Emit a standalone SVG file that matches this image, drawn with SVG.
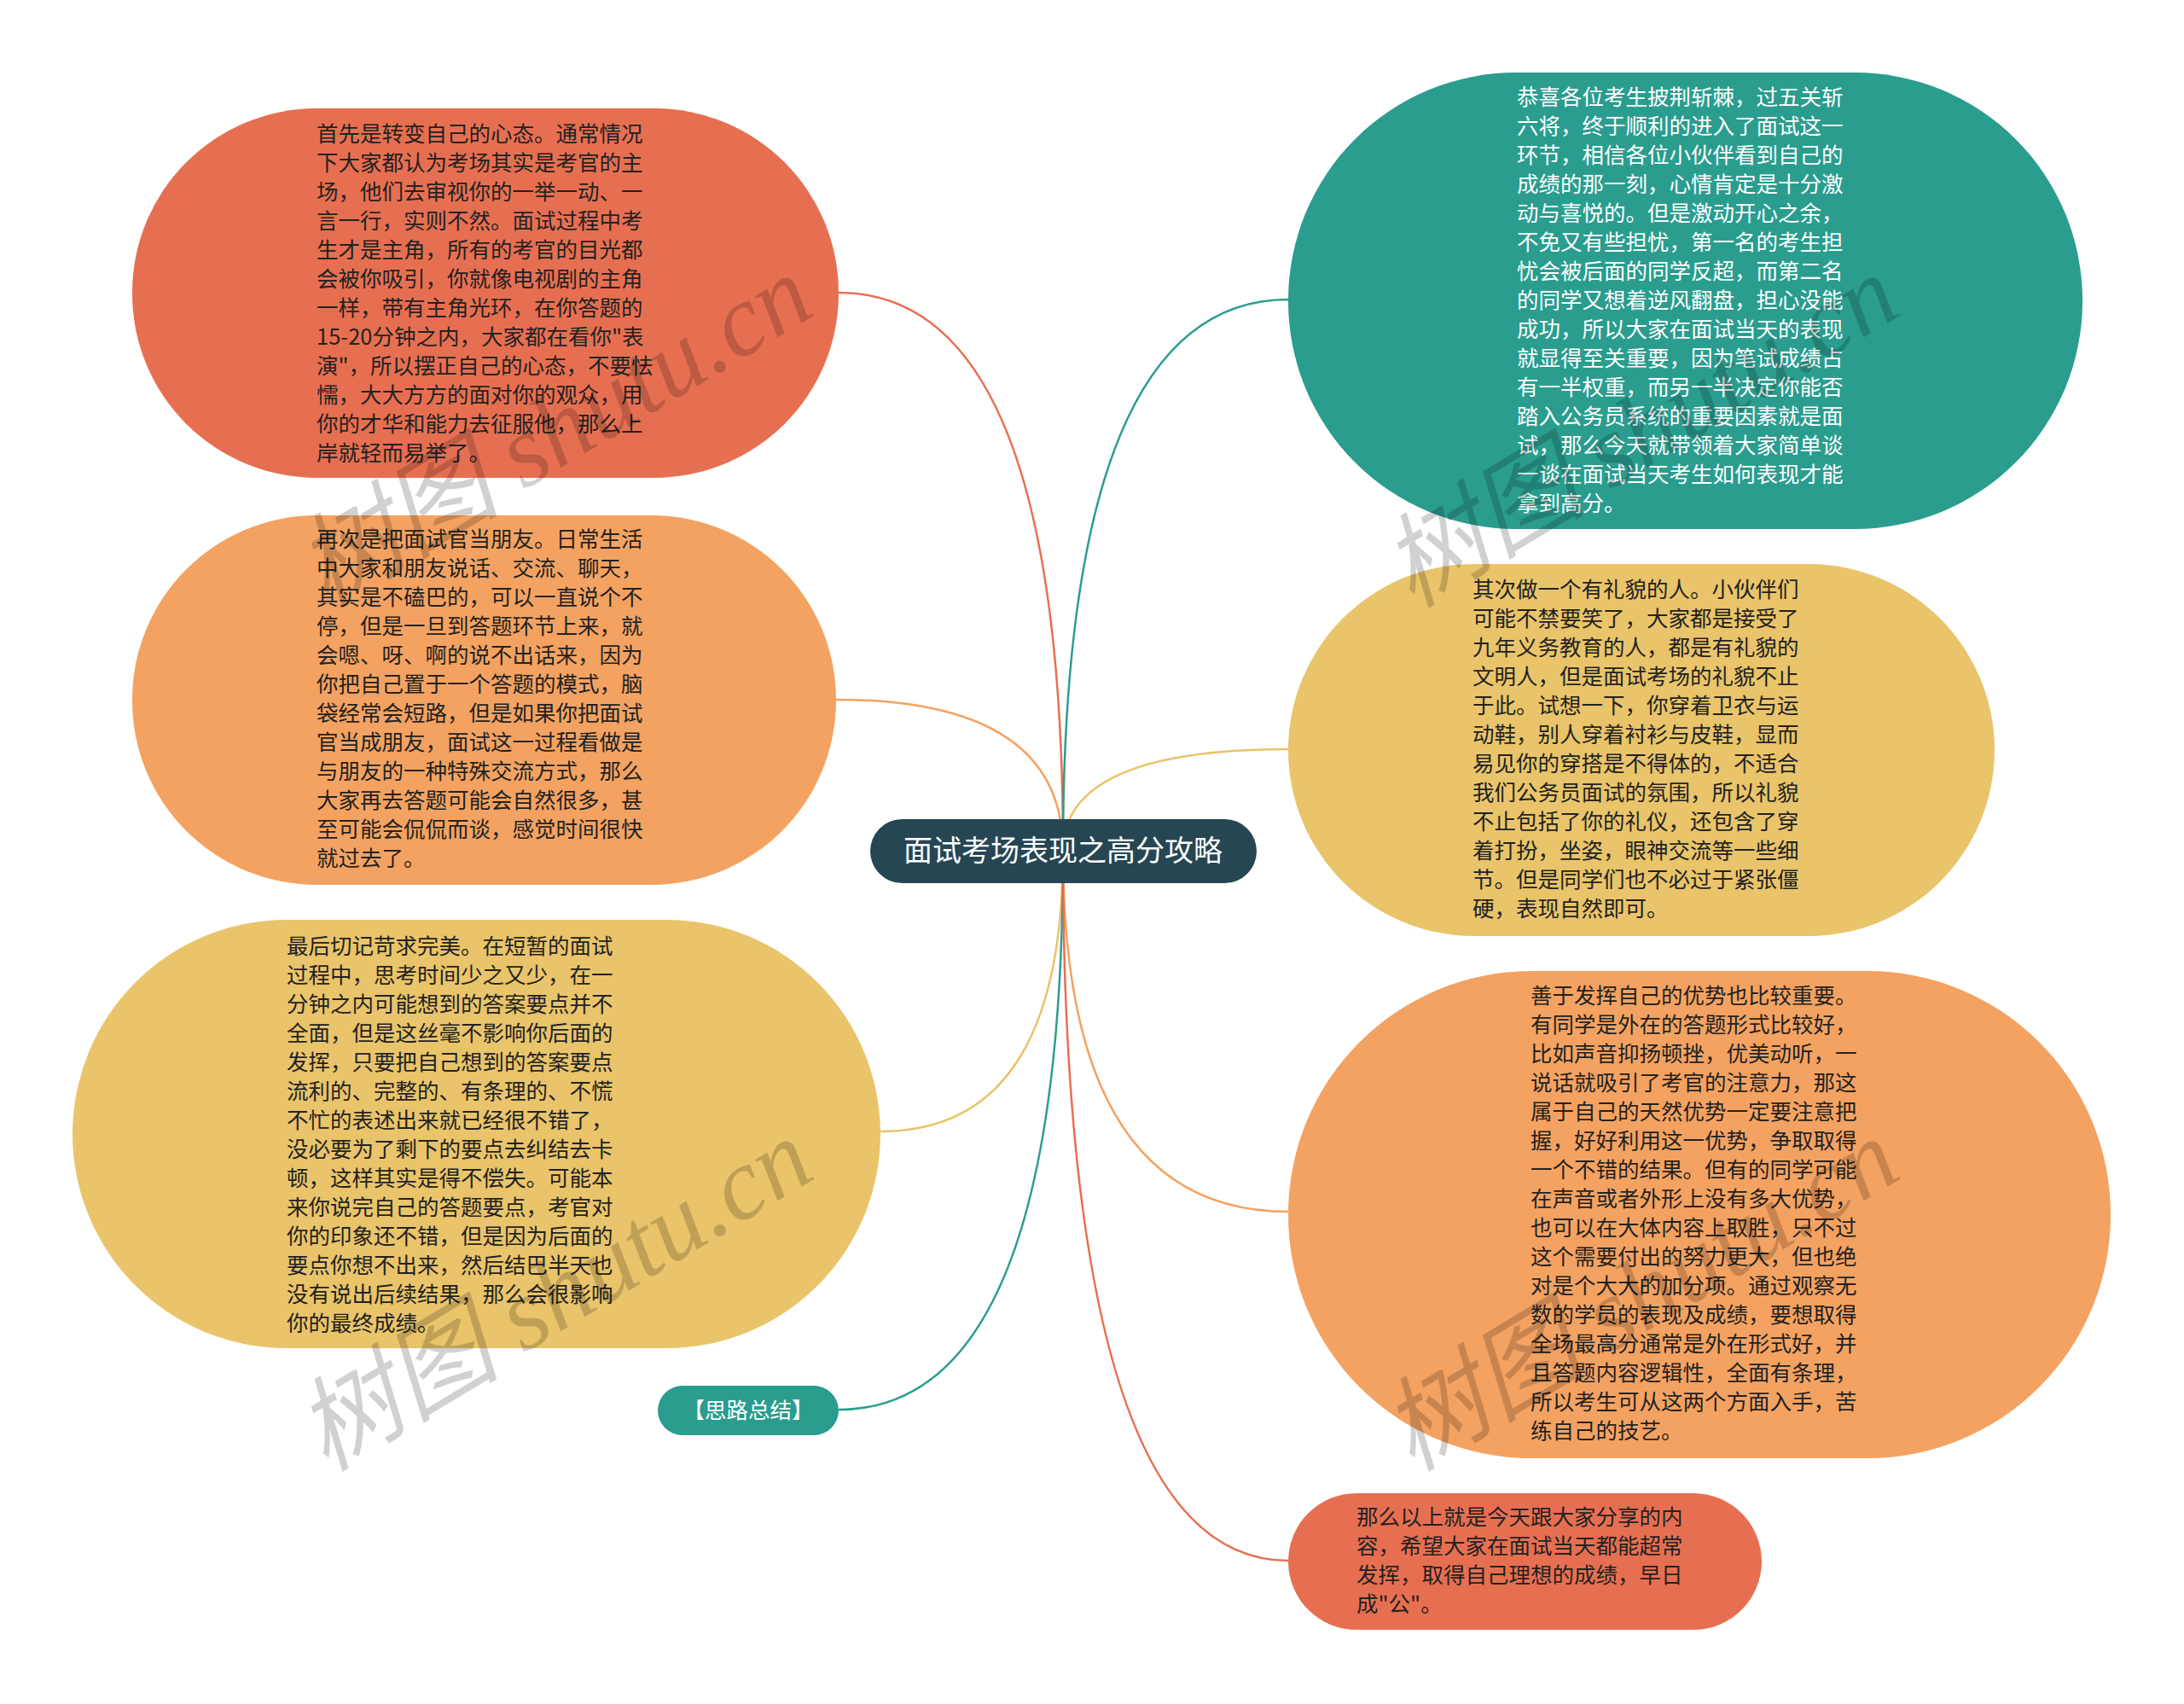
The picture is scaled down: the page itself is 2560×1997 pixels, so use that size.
<svg xmlns="http://www.w3.org/2000/svg" width="2560" height="1997" viewBox="0 0 2560 1997">
<style>
.t{font-family:"Noto Sans CJK SC","Noto Sans",sans-serif;font-size:25.5px;fill:#222}
.tw{font-family:"Noto Sans CJK SC","Noto Sans",sans-serif;font-size:25.5px;fill:#fff}
.c{fill:none;stroke-width:2.5}
.wm{font-family:"Liberation Serif","Noto Sans CJK SC",serif;font-size:120px;fill:#000;fill-opacity:0.18;font-style:italic}
</style>
<rect width="2560" height="1997" fill="#fff"/>
<g id="connectors">
<path class="c" stroke="#E76F51" d="M1246 997 Q1246 343 983 343"/>
<path class="c" stroke="#F4A261" d="M1246 997 Q1246 820 980 820"/>
<path class="c" stroke="#E9C46A" d="M1246 997 Q1246 1326 1032 1326"/>
<path class="c" stroke="#2A9D8F" d="M1246 997 Q1246 1652 983 1652"/>
<path class="c" stroke="#2A9D8F" d="M1246 997 Q1246 351 1510 351"/>
<path class="c" stroke="#E9C46A" d="M1246 997 Q1246 878 1510 878"/>
<path class="c" stroke="#F4A261" d="M1246 997 Q1246 1420 1510 1420"/>
<path class="c" stroke="#E76F51" d="M1246 997 Q1246 1829 1510 1829"/>
</g>
<g id="center">
<rect x="1020" y="960" width="453" height="75" rx="37.5" fill="#264653"/>
<text x="1246" y="1009" text-anchor="middle" font-family="Noto Sans CJK SC,sans-serif" font-size="34" fill="#fff">面试考场表现之高分攻略</text>
</g>
<g id="n1">
<rect x="155" y="127" width="828" height="433" rx="216" fill="#E76F51"/>
<text class="t" x="371" y="166"><tspan x="371">首先是转变自己的心态。通常情况</tspan><tspan x="371" dy="34">下大家都认为考场其实是考官的主</tspan><tspan x="371" dy="34">场，他们去审视你的一举一动、一</tspan><tspan x="371" dy="34">言一行，实则不然。面试过程中考</tspan><tspan x="371" dy="34">生才是主角，所有的考官的目光都</tspan><tspan x="371" dy="34">会被你吸引，你就像电视剧的主角</tspan><tspan x="371" dy="34">一样，带有主角光环，在你答题的</tspan><tspan x="371" dy="34">15-20分钟之内，大家都在看你"表</tspan><tspan x="371" dy="34">演"，所以摆正自己的心态，不要怯</tspan><tspan x="371" dy="34">懦，大大方方的面对你的观众，用</tspan><tspan x="371" dy="34">你的才华和能力去征服他，那么上</tspan><tspan x="371" dy="34">岸就轻而易举了。</tspan></text>
</g>
<g id="n2">
<rect x="155" y="604" width="825" height="433" rx="216" fill="#F4A261"/>
<text class="t" x="371" y="641"><tspan x="371">再次是把面试官当朋友。日常生活</tspan><tspan x="371" dy="34">中大家和朋友说话、交流、聊天，</tspan><tspan x="371" dy="34">其实是不磕巴的，可以一直说个不</tspan><tspan x="371" dy="34">停，但是一旦到答题环节上来，就</tspan><tspan x="371" dy="34">会嗯、呀、啊的说不出话来，因为</tspan><tspan x="371" dy="34">你把自己置于一个答题的模式，脑</tspan><tspan x="371" dy="34">袋经常会短路，但是如果你把面试</tspan><tspan x="371" dy="34">官当成朋友，面试这一过程看做是</tspan><tspan x="371" dy="34">与朋友的一种特殊交流方式，那么</tspan><tspan x="371" dy="34">大家再去答题可能会自然很多，甚</tspan><tspan x="371" dy="34">至可能会侃侃而谈，感觉时间很快</tspan><tspan x="371" dy="34">就过去了。</tspan></text>
</g>
<g id="n3">
<rect x="85" y="1078" width="947" height="502" rx="251" fill="#E9C46A"/>
<text class="t" x="336" y="1118"><tspan x="336">最后切记苛求完美。在短暂的面试</tspan><tspan x="336" dy="34">过程中，思考时间少之又少，在一</tspan><tspan x="336" dy="34">分钟之内可能想到的答案要点并不</tspan><tspan x="336" dy="34">全面，但是这丝毫不影响你后面的</tspan><tspan x="336" dy="34">发挥，只要把自己想到的答案要点</tspan><tspan x="336" dy="34">流利的、完整的、有条理的、不慌</tspan><tspan x="336" dy="34">不忙的表述出来就已经很不错了，</tspan><tspan x="336" dy="34">没必要为了剩下的要点去纠结去卡</tspan><tspan x="336" dy="34">顿，这样其实是得不偿失。可能本</tspan><tspan x="336" dy="34">来你说完自己的答题要点，考官对</tspan><tspan x="336" dy="34">你的印象还不错，但是因为后面的</tspan><tspan x="336" dy="34">要点你想不出来，然后结巴半天也</tspan><tspan x="336" dy="34">没有说出后续结果，那么会很影响</tspan><tspan x="336" dy="34">你的最终成绩。</tspan></text>
</g>
<g id="n4">
<rect x="771" y="1624" width="212" height="58" rx="29" fill="#2A9D8F"/>
<text class="tw" x="877" y="1662" text-anchor="middle" font-size="26">【思路总结】</text>
</g>
<g id="n5">
<rect x="1510" y="85" width="931" height="535" rx="267" fill="#2A9D8F"/>
<text class="tw" x="1778" y="123"><tspan x="1778">恭喜各位考生披荆斩棘，过五关斩</tspan><tspan x="1778" dy="34">六将，终于顺利的进入了面试这一</tspan><tspan x="1778" dy="34">环节，相信各位小伙伴看到自己的</tspan><tspan x="1778" dy="34">成绩的那一刻，心情肯定是十分激</tspan><tspan x="1778" dy="34">动与喜悦的。但是激动开心之余，</tspan><tspan x="1778" dy="34">不免又有些担忧，第一名的考生担</tspan><tspan x="1778" dy="34">忧会被后面的同学反超，而第二名</tspan><tspan x="1778" dy="34">的同学又想着逆风翻盘，担心没能</tspan><tspan x="1778" dy="34">成功，所以大家在面试当天的表现</tspan><tspan x="1778" dy="34">就显得至关重要，因为笔试成绩占</tspan><tspan x="1778" dy="34">有一半权重，而另一半决定你能否</tspan><tspan x="1778" dy="34">踏入公务员系统的重要因素就是面</tspan><tspan x="1778" dy="34">试，那么今天就带领着大家简单谈</tspan><tspan x="1778" dy="34">一谈在面试当天考生如何表现才能</tspan><tspan x="1778" dy="34">拿到高分。</tspan></text>
</g>
<g id="n6">
<rect x="1510" y="661" width="828" height="436" rx="218" fill="#E9C46A"/>
<text class="t" x="1726" y="700"><tspan x="1726">其次做一个有礼貌的人。小伙伴们</tspan><tspan x="1726" dy="34">可能不禁要笑了，大家都是接受了</tspan><tspan x="1726" dy="34">九年义务教育的人，都是有礼貌的</tspan><tspan x="1726" dy="34">文明人，但是面试考场的礼貌不止</tspan><tspan x="1726" dy="34">于此。试想一下，你穿着卫衣与运</tspan><tspan x="1726" dy="34">动鞋，别人穿着衬衫与皮鞋，显而</tspan><tspan x="1726" dy="34">易见你的穿搭是不得体的，不适合</tspan><tspan x="1726" dy="34">我们公务员面试的氛围，所以礼貌</tspan><tspan x="1726" dy="34">不止包括了你的礼仪，还包含了穿</tspan><tspan x="1726" dy="34">着打扮，坐姿，眼神交流等一些细</tspan><tspan x="1726" dy="34">节。但是同学们也不必过于紧张僵</tspan><tspan x="1726" dy="34">硬，表现自然即可。</tspan></text>
</g>
<g id="n7">
<rect x="1510" y="1138" width="964" height="571" rx="285" fill="#F4A261"/>
<text class="t" x="1794" y="1176"><tspan x="1794">善于发挥自己的优势也比较重要。</tspan><tspan x="1794" dy="34">有同学是外在的答题形式比较好，</tspan><tspan x="1794" dy="34">比如声音抑扬顿挫，优美动听，一</tspan><tspan x="1794" dy="34">说话就吸引了考官的注意力，那这</tspan><tspan x="1794" dy="34">属于自己的天然优势一定要注意把</tspan><tspan x="1794" dy="34">握，好好利用这一优势，争取取得</tspan><tspan x="1794" dy="34">一个不错的结果。但有的同学可能</tspan><tspan x="1794" dy="34">在声音或者外形上没有多大优势，</tspan><tspan x="1794" dy="34">也可以在大体内容上取胜，只不过</tspan><tspan x="1794" dy="34">这个需要付出的努力更大，但也绝</tspan><tspan x="1794" dy="34">对是个大大的加分项。通过观察无</tspan><tspan x="1794" dy="34">数的学员的表现及成绩，要想取得</tspan><tspan x="1794" dy="34">全场最高分通常是外在形式好，并</tspan><tspan x="1794" dy="34">且答题内容逻辑性，全面有条理，</tspan><tspan x="1794" dy="34">所以考生可从这两个方面入手，苦</tspan><tspan x="1794" dy="34">练自己的技艺。</tspan></text>
</g>
<g id="n8">
<rect x="1510" y="1750" width="555" height="160" rx="80" fill="#E76F51"/>
<text class="t" x="1590" y="1787"><tspan x="1590">那么以上就是今天跟大家分享的内</tspan><tspan x="1590" dy="34">容，希望大家在面试当天都能超常</tspan><tspan x="1590" dy="34">发挥，取得自己理想的成绩，早日</tspan><tspan x="1590" dy="34">成"公"。</tspan></text>
</g>
<g id="watermarks">
<text class="wm" x="650" y="546" text-anchor="middle" transform="rotate(-31 650 506)">树图 shutu.cn</text>
<text class="wm" x="1923" y="546" text-anchor="middle" transform="rotate(-31 1923 506)">树图 shutu.cn</text>
<text class="wm" x="650" y="1558" text-anchor="middle" transform="rotate(-31 650 1518)">树图 shutu.cn</text>
<text class="wm" x="1923" y="1558" text-anchor="middle" transform="rotate(-31 1923 1518)">树图 shutu.cn</text>
</g>
</svg>
